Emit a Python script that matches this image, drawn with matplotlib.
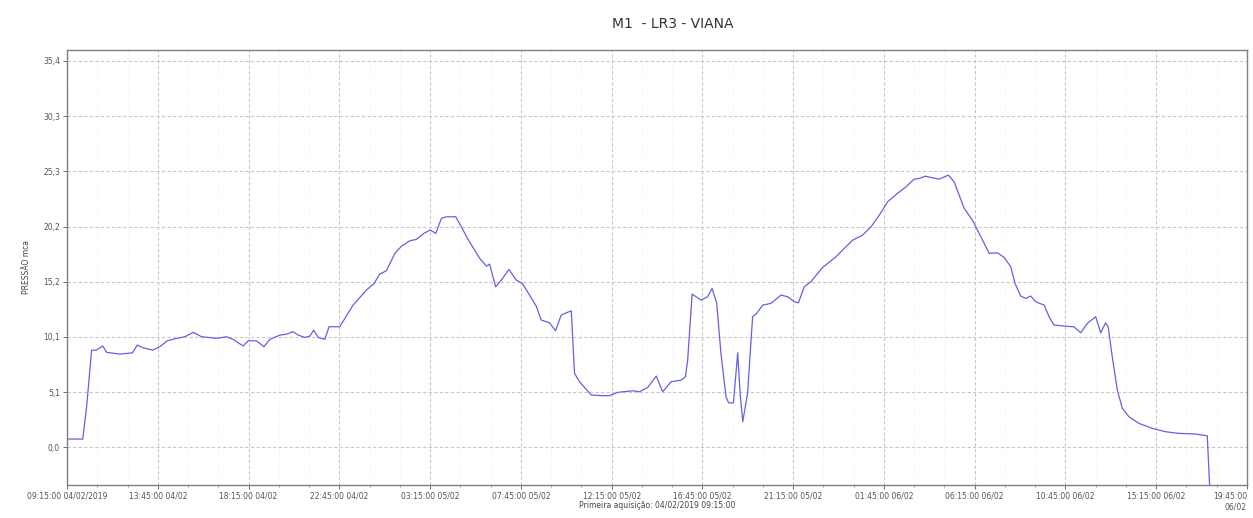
import matplotlib
matplotlib.use('Agg')
import matplotlib.pyplot as plt
from matplotlib.ticker import MultipleLocator
import numpy as np

# hours since 04/02/2019 09:15:00, pressure in mca
hours = [0.0, 0.78, 0.97, 1.22, 1.44, 1.77, 1.97, 2.62, 3.25, 3.48, 3.78, 4.24,
         4.6, 4.97, 5.43, 5.84, 6.26, 6.67, 7.0, 7.41, 7.91, 8.24, 8.73, 8.98,
         9.39, 9.76, 10.05, 10.55, 10.88, 11.21, 11.46, 11.79, 12.04, 12.23,
         12.45, 12.78, 12.99, 13.52, 14.18, 14.84, 15.22, 15.5, 15.83, 16.25,
         16.58, 16.99, 17.32, 17.73, 18.01, 18.28, 18.56, 18.81, 19.27, 19.55,
         19.88, 20.46, 20.79, 20.95, 21.25, 21.53, 21.91, 22.27, 22.57, 22.93,
         23.26, 23.51, 23.92, 24.22, 24.5, 25.0, 25.16, 25.41, 25.99, 26.56,
         26.89, 27.31, 28.05, 28.38, 28.79, 29.21, 29.53, 29.95, 30.45, 30.66,
         30.77, 30.99, 31.43, 31.76, 31.98, 32.21, 32.42, 32.67, 32.8, 33.04,
         33.25, 33.37, 33.5, 33.74, 33.99, 34.19, 34.49, 34.9, 35.4, 35.73,
         36.06, 36.26, 36.55, 36.88, 37.46, 38.12, 38.53, 38.95, 39.44, 39.86,
         40.27, 40.68, 41.17, 41.59, 42.0, 42.25, 42.55, 42.91, 43.24, 43.7,
         43.98, 44.48, 44.89, 45.72, 46.13, 46.46, 46.79, 47.0, 47.28, 47.53,
         47.78, 48.03, 48.44, 48.69, 48.93, 49.43, 49.92, 50.26, 50.58, 51.0,
         51.25, 51.49, 51.62, 51.82, 52.07, 52.32, 52.65, 53.14, 53.8, 54.46,
         55.12, 55.95, 56.53, 56.58, 56.66]
pressure = [0.76, 0.76, 3.72, 8.9, 8.9, 9.28, 8.7, 8.54, 8.66, 9.37, 9.12, 8.91,
            9.21, 9.76, 9.98, 10.13, 10.53, 10.13, 10.07, 9.98, 10.13, 9.89, 9.28,
            9.76, 9.76, 9.21, 9.89, 10.28, 10.37, 10.59, 10.28, 10.07, 10.19,
            10.74, 10.07, 9.89, 11.05, 11.05, 13.03, 14.4, 15.0, 15.87, 16.17,
            17.76, 18.43, 18.92, 19.05, 19.65, 19.9, 19.6, 20.97, 21.12, 21.12,
            20.2, 19.05, 17.31, 16.6, 16.79, 14.71, 15.32, 16.3, 15.32, 15.02,
            13.95, 12.94, 11.66, 11.41, 10.68, 12.12, 12.51, 6.78, 6.01, 4.79,
            4.73, 4.73, 5.04, 5.18, 5.09, 5.49, 6.53, 5.09, 6.01, 6.16, 6.47,
            7.99, 14.04, 13.49, 13.79, 14.56, 13.19, 8.61, 4.63, 4.08, 4.08,
            8.66, 4.95, 2.34, 4.95, 11.96, 12.27, 13.03, 13.19, 13.95, 13.79,
            13.33, 13.24, 14.71, 15.17, 16.48, 17.45, 18.22, 18.98, 19.44, 20.2,
            21.27, 22.49, 23.26, 23.86, 24.57, 24.63, 24.84, 24.69, 24.57, 24.94,
            24.32, 21.89, 20.81, 17.77, 17.82, 17.4, 16.54, 15.02, 13.86, 13.64,
            13.86, 13.33, 13.03, 11.96, 11.2, 11.11, 11.04, 10.49, 11.35, 11.96,
            10.49, 11.41, 11.04, 8.3, 5.25, 3.57, 2.8, 2.2, 1.74, 1.43,
            1.28, 1.22, 1.06, -0.86, -4.0]

x_tick_labels = ['09:15:00 04/02/2019', '13:45:00 04/02', '18:15:00 04/02',
                 '22:45:00 04/02', '03:15:00 05/02', '07:45:00 05/02',
                 '12:15:00 05/02', '16:45:00 05/02', '21:15:00 05/02',
                 '01:45:00 06/02', '06:15:00 06/02', '10:45:00 06/02',
                 '15:15:00 06/02', '19:45:00\n06/02']
y_ticks = [0.0, 5.1, 10.1, 15.2, 20.2, 25.3, 30.3, 35.4]

fig = plt.figure(figsize=(12.53, 5.18), dpi=100)
ax = fig.add_axes([0.0535, 0.0637, 0.9417, 0.8398])

ax.plot(hours, pressure, color='#6262e2', linewidth=0.9)

x_pos = np.arange(len(x_tick_labels)) * 4.5
ax.set_xlim(0, 58.5)
ax.set_ylim(-3.45, 36.4)
ax.set_xticks(x_pos)
ax.set_xticklabels(x_tick_labels)
# last label sits on the right edge: wrap it and keep it inside the figure
last = ax.get_xticklabels()[-1]
last.set_horizontalalignment('right')
y_pos = np.linspace(0, 35.4, len(y_ticks))
ax.set_yticks(y_pos)
ax.set_yticklabels([f'{v:.1f}'.replace('.', ',') for v in y_ticks])
ax.xaxis.set_minor_locator(MultipleLocator(1.5))

ax.grid(True, which='major', color='#c8c8c8', linestyle=(0, (3, 2)), linewidth=0.8)
ax.grid(True, which='minor', axis='x', color='#e6e6e6', linestyle=(0, (1, 3)), linewidth=0.6)
ax.set_axisbelow(True)

ax.tick_params(axis='both', which='major', labelsize=5.5, colors='#555555',
               length=3, width=0.6, pad=2)
ax.tick_params(axis='both', which='minor', length=1.5, width=0.5, colors='#777777')
for sp in ax.spines.values():
    sp.set_color('#808080')
    sp.set_linewidth(1.0)

ax.set_xlabel('Primeira aquisição: 04/02/2019 09:15:00', fontsize=5.5,
              color='#444444')
ax.xaxis.set_label_coords(0.5, -0.037)
ax.set_ylabel('PRESSÃO mca', fontsize=5.5, color='#444444', labelpad=9)
fig.text(0.537, 0.953, 'M1  - LR3 - VIANA', ha='center', va='center',
         fontsize=10, color='#333333')

fig.savefig('out.png', dpi=100)
